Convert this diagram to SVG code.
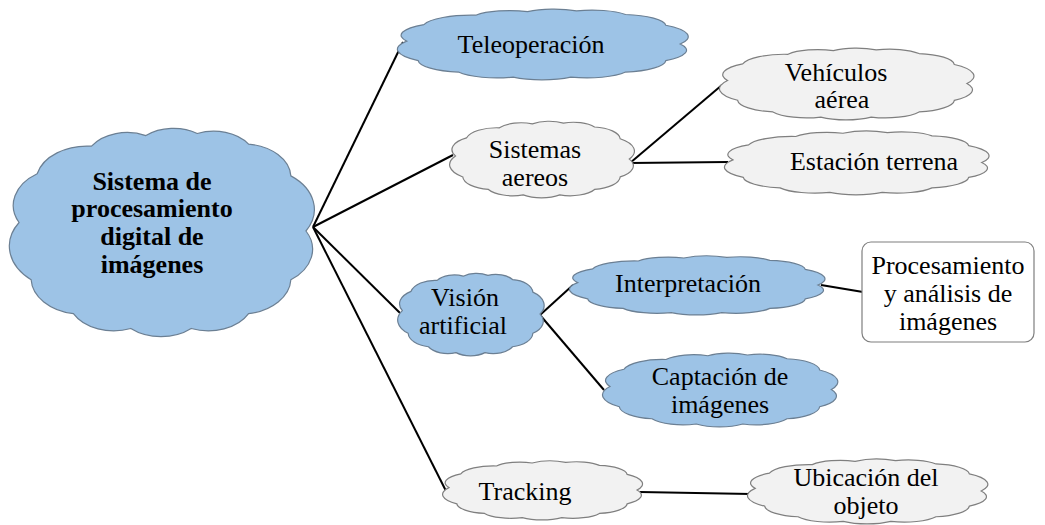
<svg xmlns="http://www.w3.org/2000/svg" width="1045" height="525" viewBox="0 0 1045 525">
  <defs>
    <!-- unit cloud outline in a 100x100 box, scaled per node -->
    <path id="cloud" vector-effect="non-scaling-stroke" d="M3,46 A18,18 0 0 1 9,23 A17,17 0 0 1 27,10 A14,14 0 0 1 45,5 A14,14 0 0 1 62,4 A14,14 0 0 1 79,9 A16,16 0 0 1 93,24 A20,20 0 0 1 98,50 A18,18 0 0 1 93,73 A17,17 0 0 1 79,89 A15,15 0 0 1 60,96 A15,15 0 0 1 40,96 A15,15 0 0 1 21,89 A17,17 0 0 1 7,73 A21,21 0 0 1 3,46 Z"/>
  </defs>

  <g id="connectors" stroke="#000" stroke-width="2" fill="none">
    <line x1="313" y1="227" x2="403" y2="42"/>
    <line x1="313" y1="227" x2="453" y2="155"/>
    <line x1="313" y1="227" x2="400" y2="313"/>
    <line x1="313" y1="227" x2="446" y2="491"/>
    <line x1="630" y1="163" x2="722" y2="85"/>
    <line x1="630" y1="163" x2="728" y2="162"/>
    <line x1="540" y1="315" x2="573" y2="285"/>
    <line x1="540" y1="315" x2="604" y2="390"/>
    <line x1="821" y1="285" x2="863" y2="292"/>
    <line x1="640" y1="492" x2="751" y2="494"/>
  </g>

  <g id="node-main">
    <use href="#cloud" fill="#9dc3e6" stroke="#6b7f93" stroke-width="1.2" transform="translate(10,125) scale(3.02,2.12)"/>
    <text font-family="Liberation Serif" font-size="26" font-weight="bold" text-anchor="middle" x="152" y="190">Sistema de</text>
    <text font-family="Liberation Serif" font-size="26" font-weight="bold" text-anchor="middle" x="152" y="217">procesamiento</text>
    <text font-family="Liberation Serif" font-size="26" font-weight="bold" text-anchor="middle" x="152" y="245">digital de</text>
    <text font-family="Liberation Serif" font-size="26" font-weight="bold" text-anchor="middle" x="152" y="273">imágenes</text>
  </g>

  <g id="node-teleoperacion">
    <use href="#cloud" fill="#9dc3e6" stroke="#6b7f93" stroke-width="1.2" transform="translate(398,8) scale(2.88,0.72)"/>
    <text font-family="Liberation Serif" font-size="26" text-anchor="middle" x="531" y="53">Teleoperación</text>
  </g>

  <g id="node-sistemas">
    <use href="#cloud" fill="#f2f2f2" stroke="#7f7f7f" stroke-width="1.2" transform="translate(450,120) scale(1.83,0.78)"/>
    <text font-family="Liberation Serif" font-size="26" text-anchor="middle" x="535" y="158">Sistemas</text>
    <text font-family="Liberation Serif" font-size="26" text-anchor="middle" x="535" y="186">aereos</text>
  </g>

  <g id="node-vehiculos">
    <use href="#cloud" fill="#f2f2f2" stroke="#7f7f7f" stroke-width="1.2" transform="translate(720,47) scale(2.52,0.73)"/>
    <text font-family="Liberation Serif" font-size="26" text-anchor="middle" x="836" y="81">Vehículos</text>
    <text font-family="Liberation Serif" font-size="26" text-anchor="middle" x="842" y="108">aérea</text>
  </g>

  <g id="node-estacion">
    <use href="#cloud" fill="#f2f2f2" stroke="#7f7f7f" stroke-width="1.2" transform="translate(725,130) scale(2.62,0.65)"/>
    <text font-family="Liberation Serif" font-size="26" text-anchor="middle" x="874" y="170">Estación terrena</text>
  </g>

  <g id="node-vision">
    <use href="#cloud" fill="#9dc3e6" stroke="#6b7f93" stroke-width="1.2" transform="translate(398,272) scale(1.45,0.84)"/>
    <text font-family="Liberation Serif" font-size="26" text-anchor="middle" x="465" y="306">Visión</text>
    <text font-family="Liberation Serif" font-size="26" text-anchor="middle" x="463" y="334">artificial</text>
  </g>

  <g id="node-interpretacion">
    <use href="#cloud" fill="#9dc3e6" stroke="#6b7f93" stroke-width="1.2" transform="translate(570,255) scale(2.53,0.6)"/>
    <text font-family="Liberation Serif" font-size="26" text-anchor="middle" x="688" y="292">Interpretación</text>
  </g>

  <g id="node-procesamiento">
    <rect x="862" y="242" width="172" height="100" rx="9" fill="#fff" stroke="#7f7f7f" stroke-width="1.2"/>
    <text font-family="Liberation Serif" font-size="26" text-anchor="middle" x="948" y="274">Procesamiento</text>
    <text font-family="Liberation Serif" font-size="26" text-anchor="middle" x="948" y="302">y análisis de</text>
    <text font-family="Liberation Serif" font-size="26" text-anchor="middle" x="948" y="330">imágenes</text>
  </g>

  <g id="node-captacion">
    <use href="#cloud" fill="#9dc3e6" stroke="#6b7f93" stroke-width="1.2" transform="translate(603,352) scale(2.33,0.75)"/>
    <text font-family="Liberation Serif" font-size="26" text-anchor="middle" x="720" y="385">Captación de</text>
    <text font-family="Liberation Serif" font-size="26" text-anchor="middle" x="720" y="413">imágenes</text>
  </g>

  <g id="node-tracking">
    <use href="#cloud" fill="#f2f2f2" stroke="#7f7f7f" stroke-width="1.2" transform="translate(443,460) scale(1.98,0.6)"/>
    <text font-family="Liberation Serif" font-size="26" text-anchor="middle" x="525" y="500">Tracking</text>
  </g>

  <g id="node-ubicacion">
    <use href="#cloud" fill="#f2f2f2" stroke="#7f7f7f" stroke-width="1.2" transform="translate(748,458) scale(2.38,0.66)"/>
    <text font-family="Liberation Serif" font-size="26" text-anchor="middle" x="866" y="486">Ubicación del</text>
    <text font-family="Liberation Serif" font-size="26" text-anchor="middle" x="866" y="514">objeto</text>
  </g>
</svg>
